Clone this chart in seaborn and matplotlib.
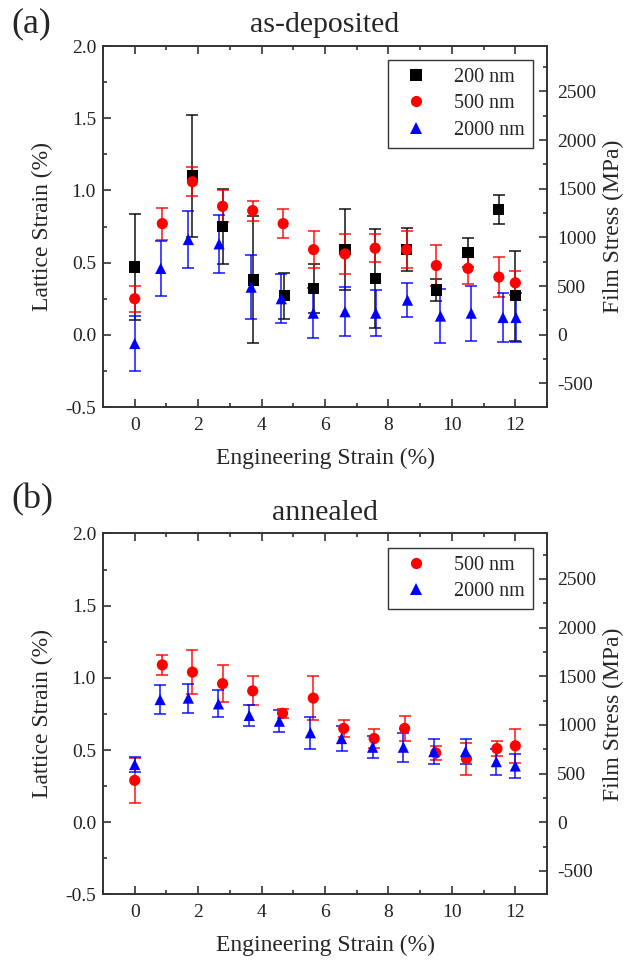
import numpy as np
import pandas as pd
import matplotlib.pyplot as plt
import seaborn as sns
from matplotlib.ticker import MultipleLocator

# --- data (lattice strain %, error bars %) ---
# (a) as-deposited
a_200_x = [0, 1.82, 2.77, 3.74, 4.72, 5.64, 6.63, 7.58, 8.57, 9.51, 10.51, 11.48, 12.0]
a_200_y = [0.47, 1.10, 0.75, 0.38, 0.27, 0.32, 0.59, 0.39, 0.59, 0.31, 0.57, 0.87, 0.27]
a_200_e = [0.37, 0.42, 0.26, 0.44, 0.16, 0.17, 0.28, 0.34, 0.15, 0.075, 0.10, 0.10, 0.31]

a_500_x = [0, 0.87, 1.82, 2.77, 3.72, 4.68, 5.64, 6.63, 7.58, 8.57, 9.51, 10.51, 11.48, 12.0]
a_500_y = [0.25, 0.77, 1.06, 0.89, 0.86, 0.77, 0.59, 0.56, 0.60, 0.59, 0.48, 0.46, 0.40, 0.36]
a_500_e = [0.09, 0.11, 0.10, 0.11, 0.07, 0.10, 0.13, 0.14, 0.095, 0.13, 0.14, 0.11, 0.14, 0.085]

a_2000_x = [0, 0.82, 1.69, 2.66, 3.67, 4.62, 5.63, 6.63, 7.6, 8.6, 9.64, 10.61, 11.61, 12.02]
a_2000_y = [-0.06, 0.46, 0.66, 0.63, 0.33, 0.25, 0.15, 0.16, 0.15, 0.24, 0.13, 0.15, 0.12, 0.12]
a_2000_e = [0.19, 0.19, 0.195, 0.20, 0.22, 0.17, 0.175, 0.17, 0.16, 0.12, 0.185, 0.19, 0.17, 0.17]

# (b) annealed
b_500_x = [0, 0.87, 1.82, 2.77, 3.72, 4.66, 5.63, 6.59, 7.55, 8.51, 9.49, 10.46, 11.42, 12.0]
b_500_y = [0.29, 1.09, 1.04, 0.96, 0.91, 0.755, 0.86, 0.65, 0.58, 0.65, 0.48, 0.44, 0.51, 0.53]
b_500_e = [0.157, 0.067, 0.15, 0.13, 0.10, 0.03, 0.15, 0.06, 0.065, 0.087, 0.05, 0.11, 0.05, 0.116]

b_2000_x = [0, 0.8, 1.69, 2.64, 3.61, 4.56, 5.54, 6.52, 7.5, 8.47, 9.43, 10.43, 11.4, 12.0]
b_2000_y = [0.40, 0.85, 0.86, 0.82, 0.74, 0.70, 0.62, 0.58, 0.52, 0.52, 0.49, 0.49, 0.42, 0.39]
b_2000_e = [0.052, 0.10, 0.10, 0.093, 0.075, 0.075, 0.11, 0.085, 0.077, 0.10, 0.087, 0.087, 0.09, 0.085]

films = ['200 nm', '500 nm', '2000 nm']
colors = {'200 nm': '#000000', '500 nm': '#ff0000', '2000 nm': '#0000ff'}
markers = {'200 nm': 's', '500 nm': 'o', '2000 nm': '^'}

# modulus used for the film stress axis (MPa per % strain)
E_MPA = 1483


def make_df(series):
    rows = []
    for name, xs, ys, es in series:
        for x, y, e in zip(xs, ys, es):
            rows.append({'strain': x, 'lattice': y, 'err': e, 'film': name})
    return pd.DataFrame(rows)


df_a = make_df([('200 nm', a_200_x, a_200_y, a_200_e),
                ('500 nm', a_500_x, a_500_y, a_500_e),
                ('2000 nm', a_2000_x, a_2000_y, a_2000_e)])
df_b = make_df([('500 nm', b_500_x, b_500_y, b_500_e),
                ('2000 nm', b_2000_x, b_2000_y, b_2000_e)])

sns.set_style('ticks')
plt.rcParams['font.family'] = ['Liberation Serif', 'DejaVu Serif']
plt.rcParams['axes.unicode_minus'] = False

fig = plt.figure(figsize=(6.3, 9.67), dpi=100)
ax_a = fig.add_axes([0.1635, 0.5791, 0.7048, 0.3733])
ax_b = fig.add_axes([0.1635, 0.0750, 0.7048, 0.3733])


def draw_panel(ax, df, title):
    order = [f for f in films if f in df['film'].unique()]
    # error bars first, markers on top
    for f in order:
        d = df[df['film'] == f]
        ax.errorbar(d['strain'], d['lattice'], yerr=d['err'], fmt='none',
                    ecolor=colors[f], elinewidth=1.2, capsize=4, capthick=1.2,
                    alpha=0.85, zorder=2)
    sns.scatterplot(data=df, x='strain', y='lattice', hue='film', style='film',
                    hue_order=order, style_order=order, palette=colors,
                    markers=markers, s=65, linewidth=0, zorder=3, ax=ax)

    ax.set_xlim(-1, 13)
    ax.set_ylim(-0.5, 2.0)
    ax.xaxis.set_major_locator(MultipleLocator(2))
    ax.xaxis.set_minor_locator(MultipleLocator(1))
    ax.yaxis.set_major_locator(MultipleLocator(0.5))
    ax.yaxis.set_minor_locator(MultipleLocator(0.25))
    ax.yaxis.set_major_formatter(plt.FormatStrFormatter('%.1f'))
    ax.tick_params(which='both', direction='in', top=True, right=False,
                   labelsize=14, width=1.1, colors='#222222')
    ax.tick_params(which='major', length=6)
    ax.tick_params(which='minor', length=3)
    ax.tick_params(axis='x', pad=7)
    ax.tick_params(axis='y', pad=5)
    ax.set_xlabel('Engineering Strain (%)', fontsize=17, labelpad=10)
    ax.set_ylabel('Lattice Strain (%)', fontsize=17, labelpad=9)
    ax.set_title(title, fontsize=21.5, pad=10)
    for sp in ax.spines.values():
        sp.set_visible(True)
        sp.set_linewidth(1.2)
        sp.set_color('#333333')

    # right axis: film stress
    axr = ax.twinx()
    axr.set_ylim(-0.5 * E_MPA, 2.0 * E_MPA)
    axr.yaxis.set_major_locator(MultipleLocator(500))
    axr.yaxis.set_minor_locator(MultipleLocator(250))
    axr.tick_params(which='both', direction='in', labelsize=14, width=1.1,
                    colors='#222222', pad=7)
    axr.tick_params(which='major', length=6)
    axr.tick_params(which='minor', length=3)
    axr.set_ylabel('Film Stress (MPa)', fontsize=17, labelpad=5)
    for sp in axr.spines.values():
        sp.set_linewidth(1.2)
        sp.set_color('#333333')

    handles, labels = ax.get_legend_handles_labels()
    keep = [(h, l) for h, l in zip(handles, labels) if l in order]
    ax.legend([h for h, _ in keep], [l for _, l in keep], loc='upper right',
              fontsize=14.5, frameon=True, fancybox=False, edgecolor='#333333',
              framealpha=1, borderaxespad=0.7, handletextpad=0.9,
              labelspacing=0.35, borderpad=0.4, markerscale=1.0)
    ax.get_legend().get_frame().set_linewidth(1.0)


draw_panel(ax_a, df_a, 'as-deposited')
draw_panel(ax_b, df_b, 'annealed')

fig.text(0.018, 0.975, '(a)', fontsize=26, va='center', ha='left')
fig.text(0.018, 0.483, '(b)', fontsize=26, va='center', ha='left')

plt.savefig('out.png', dpi=100)
